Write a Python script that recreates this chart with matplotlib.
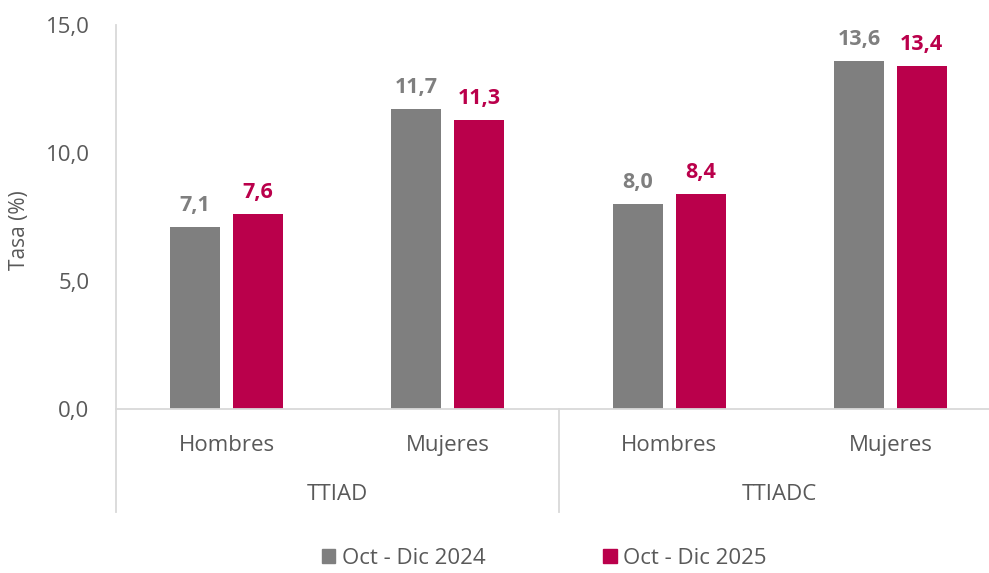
import matplotlib.pyplot as plt
from matplotlib.lines import Line2D
from matplotlib.patches import Patch
import matplotlib.transforms as mtransforms

# Datos
grupos = ["TTIAD", "TTIADC"]
categorias = ["Hombres", "Mujeres", "Hombres", "Mujeres"]
series = ["Oct - Dic 2024", "Oct - Dic 2025"]
val_2024 = [7.1, 11.7, 8.0, 13.6]
val_2025 = [7.6, 11.3, 8.4, 13.4]

GRIS = "#7F7F7F"
ROJO = "#BA004B"
TXT = "#595959"
LINEA = "#D9D9D9"

plt.rcParams["font.family"] = ["Open Sans", "DejaVu Sans"]

W, H = 989, 573
fig = plt.figure(figsize=(W / 100, H / 100), dpi=100)
ax = fig.add_axes([116 / W, (H - 409) / H, (1001 - 116) / W, 384 / H])

x = list(range(len(categorias)))
ancho = 0.226
desp = 0.142
b1 = ax.bar([i - desp for i in x], val_2024, ancho, color=GRIS, zorder=2)
b2 = ax.bar([i + desp for i in x], val_2025, ancho, color=ROJO, zorder=2)

fmt = lambda v: f"{v:.1f}".replace(".", ",")
for barras, vals, col in [(b1, val_2024, GRIS), (b2, val_2025, ROJO)]:
    for r, v in zip(barras, vals):
        ax.annotate(fmt(v), (r.get_x() + r.get_width() / 2, v), xytext=(0, 8),
                    textcoords="offset points", ha="center", va="bottom",
                    color=col, fontsize=15.5, fontweight="bold")

ax.set_xlim(-0.5, len(categorias) - 0.5)
ax.set_ylim(0, 15)
ax.set_yticks([0, 5, 10, 15])
ax.set_yticklabels([fmt(t) for t in [0, 5, 10, 15]], fontsize=16, color=TXT)
ax.set_xticks(x)
ax.set_xticklabels(categorias, fontsize=16, color=TXT)
ax.tick_params(axis="both", length=0)
ax.tick_params(axis="x", pad=19)
ax.tick_params(axis="y", pad=19)
ax.set_ylabel("Tasa (%)", fontsize=15, color=TXT)
ax.yaxis.set_label_coords(-(116 - 30) / 885, (409 - 230) / 384)

for s in ["top", "right"]:
    ax.spines[s].set_visible(False)
ax.spines["left"].set_color(LINEA)
ax.spines["bottom"].set_color(LINEA)
ax.spines["left"].set_linewidth(1.3)
ax.spines["bottom"].set_linewidth(1.3)

# separadores de grupos y etiquetas de grupo
baja = -(512 - 409) / 384
for xf in [0, 0.5, 1.0]:
    ax.add_line(Line2D([xf, xf], [0, baja], transform=ax.transAxes,
                       color=LINEA, lw=1.3, clip_on=False))
trans = mtransforms.blended_transform_factory(ax.transData, ax.transAxes)
for k, g in enumerate(grupos):
    ax.text(2 * k + 0.5, -(495 - 409) / 384, g, transform=trans, ha="center",
            va="center", fontsize=16, color=TXT)

handles = [Patch(color=GRIS), Patch(color=ROJO)]
leg = ax.legend(handles, series, loc="center", bbox_to_anchor=(0.484, -(558 - 409) / 384),
                ncol=2, frameon=False, fontsize=16, handlelength=0.6, handleheight=0.6,
                handletextpad=0.3, columnspacing=5.3, labelcolor=TXT, borderpad=0.1)

fig.savefig("out.png", dpi=100)
